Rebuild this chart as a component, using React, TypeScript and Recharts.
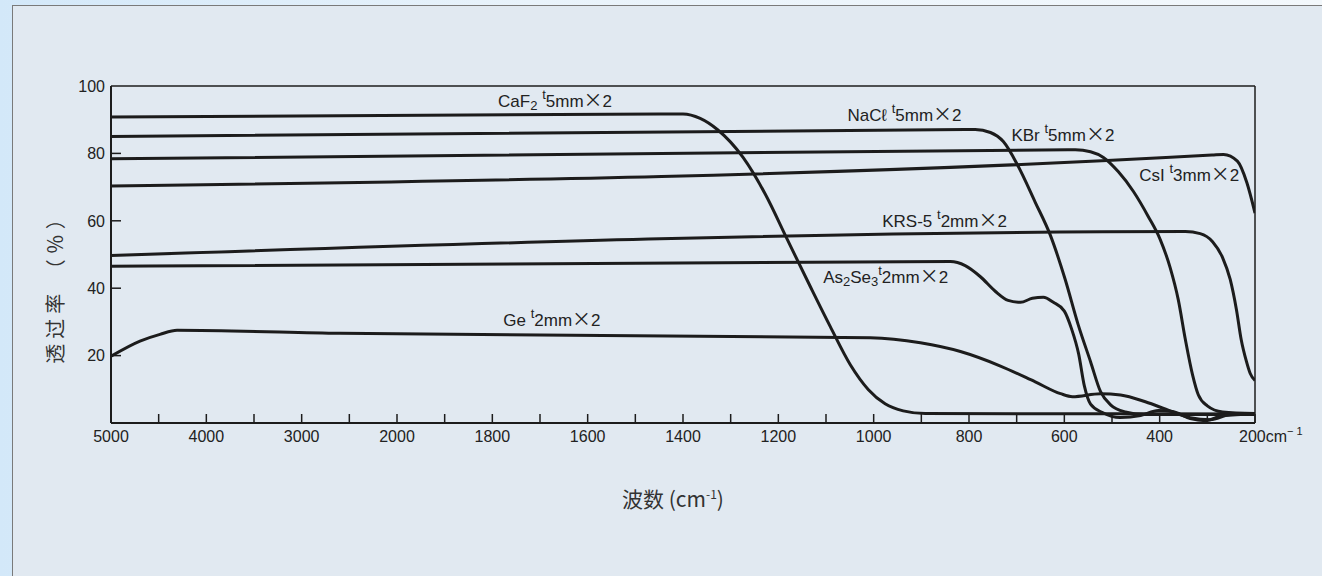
import { LineChart, Line, XAxis, YAxis, ReferenceLine, ReferenceDot } from 'recharts';

// the original axis is not linear: these ticks are evenly spaced
const waveTicks = [5000, 4000, 3000, 2000, 1800, 1600, 1400, 1200, 1000, 800, 600, 400, 200];
const yTicks = [20, 40, 60, 80, 100];

// [wavenumber cm-1, transmittance %]
const caf2 = [
  [5000, 90.8], [1400, 91.7], [1364, 90.4], [1328, 87.1], [1274, 78.8], [1227, 67.8], [1181, 54.4],
  [1133, 40.5], [1091, 28.6], [1049, 17.3], [1011, 9.9], [976, 5.7], [938, 3.6], [892, 2.8], [200, 2.7],
];
const nacl = [
  [5000, 85.0], [787, 87.1], [755, 86.2], [728, 83.5], [699, 76.8], [661, 65.5], [629, 55.6],
  [598, 42.5], [571, 29.2], [545, 18.2], [524, 9.3], [503, 5.4], [472, 3.3], [430, 2.5], [200, 2.5],
];
const kbr = [
  [5000, 78.4], [577, 81.1], [545, 80.5], [518, 78.8], [487, 74.6], [455, 68.7], [424, 61.3],
  [399, 54.5], [378, 46.1], [361, 36.6], [346, 24.7], [331, 14.3], [319, 8.4], [300, 5.1], [268, 3.3], [200, 2.8],
];
const csi = [[5000, 70.3], [290, 79.5], [266, 79.7], [237, 77.7], [217, 71.3], [200, 62.3]];
const krs5 = [
  [5000, 49.7], [346, 56.8], [315, 56.2], [289, 53.8], [268, 49.1], [252, 42.6], [239, 33.7],
  [229, 24.8], [218, 18.3], [210, 14.7], [200, 12.6],
];
const as2se3 = [
  [5000, 46.5], [839, 47.9], [808, 46.7], [776, 43.4], [745, 39.1], [718, 36.4], [692, 35.8],
  [667, 37.0], [644, 37.3], [623, 35.8], [600, 33.2], [585, 28.0], [570, 20.5], [558, 11.0], [545, 5.6],
  [520, 3.1], [483, 1.6], [440, 2.2], [403, 3.7], [373, 3.4], [336, 1.3], [304, 0.7], [268, 2.2], [200, 2.7],
];
const ge = [
  [5000, 19.8], [4696, 24.3], [4486, 26.3], [4307, 27.5], [2597, 26.6], [1007, 25.3], [902, 23.8],
  [818, 21.2], [734, 16.9], [661, 12.2], [608, 8.7], [583, 7.8], [524, 8.7], [482, 8.3], [430, 6.3],
  [378, 3.6], [336, 1.6], [294, 1.0], [252, 2.5], [200, 2.8],
];

// curve captions: [wavenumber, value] of the text start, then text parts
const captions: { wn: number; v: number; parts: [string, string][] }[] = [
  { wn: 1788, v: 93.9, parts: [['n', 'CaF'], ['sub', '2'], ['n', ' '], ['sup', 't'], ['n', '5mm'], ['x', '×'], ['n', '2']] },
  { wn: 1055, v: 89.5, parts: [['n', 'NaCℓ '], ['sup', 't'], ['n', '5mm'], ['x', '×'], ['n', '2']] },
  { wn: 711, v: 83.8, parts: [['n', 'KBr '], ['sup', 't'], ['n', '5mm'], ['x', '×'], ['n', '2']] },
  { wn: 443, v: 71.8, parts: [['n', 'CsI '], ['sup', 't'], ['n', '3mm'], ['x', '×'], ['n', '2']] },
  { wn: 982, v: 58.3, parts: [['n', 'KRS-5 '], ['sup', 't'], ['n', '2mm'], ['x', '×'], ['n', '2']] },
  { wn: 1106, v: 41.4, parts: [['n', 'As'], ['sub', '2'], ['n', 'Se'], ['sub', '3'], ['sup', 't'], ['n', '2mm'], ['x', '×'], ['n', '2']] },
  { wn: 1777, v: 28.9, parts: [['n', 'Ge '], ['sup', 't'], ['n', '2mm'], ['x', '×'], ['n', '2']] },
];

function toPos(wn: number) {
  for (let i = 0; i < waveTicks.length - 1; i++) {
    const a = waveTicks[i];
    const b = waveTicks[i + 1];
    if (wn <= a && wn >= b) return i + (a - wn) / (a - b);
  }
  return wn > waveTicks[0] ? 0 : waveTicks.length - 1;
}

const toPts = (arr: number[][]) => arr.map(([w, v]) => ({ x: toPos(w), y: v }));

const series = [caf2, nacl, kbr, csi, krs5, as2se3, ge].map(toPts);

const INK = '#1c1c1c';
const FONT = '"Liberation Sans", Arial, sans-serif';
const CJK = '"Noto Sans CJK SC", "Noto Sans", sans-serif';

const minorTicks = Array.from({ length: 25 }, (_, i) => i / 2);

function XTick({ x, y, payload }: any) {
  const v = payload.value;
  const major = Number.isInteger(v);
  return (
    <g>
      <line x1={x} y1={y} x2={x} y2={y - 9} stroke={INK} strokeWidth={1.5} />
      {major && v < 12 && (
        <text x={x} y={y + 19} textAnchor="middle" fontSize={16} fill="#222" fontFamily={FONT}>
          {waveTicks[v]}
        </text>
      )}
      {v === 12 && (
        <text x={x - 16} y={y + 19} fontSize={16} fill="#222" fontFamily={FONT}>
          200cm<tspan dy={-7} fontSize={11}>− 1</tspan>
        </text>
      )}
    </g>
  );
}

function YTick({ x, y, payload }: any) {
  const v = payload.value;
  return (
    <g>
      {v < 100 && <line x1={x} y1={y} x2={x + 10} y2={y} stroke={INK} strokeWidth={1.5} />}
      <text x={x - 6} y={y} dy="0.36em" textAnchor="end" fontSize={16} fill="#222" fontFamily={FONT}>
        {v}
      </text>
    </g>
  );
}

function CurveLabel({ viewBox, parts }: any) {
  let shift = 0;
  const spans = parts.map(([kind, t]: [string, string], i: number) => {
    const target = kind === 'sub' ? 3 : kind === 'sup' ? -8 : 0;
    const dy = target - shift;
    shift = target;
    const size = kind === 'n' ? 17 : kind === 'x' ? 19 : 13;
    return (
      <tspan key={i} dy={dy} fontSize={size} fontFamily={kind === 'x' ? '"Noto Sans CJK JP"' : undefined}>
        {t}
      </tspan>
    );
  });
  return (
    <text x={viewBox.x} y={viewBox.y} fill="#222" fontFamily={FONT}>
      {spans}
    </text>
  );
}

function XTitle({ viewBox }: any) {
  return (
    <text x={viewBox.x + viewBox.width / 2 - 10} y={viewBox.y + 84} textAnchor="middle" fontSize={21} fill="#333" fontFamily={CJK}>
      波数 (cm<tspan dy={-8} fontSize={12}>-1</tspan><tspan dy={8}>)</tspan>
    </text>
  );
}

function YTitle({ viewBox }: any) {
  const cx = viewBox.x + 5;
  const cy = 284;
  return (
    <text x={cx} y={cy} transform={`rotate(-90 ${cx} ${cy})`} dy="0.35em" textAnchor="middle" fontSize={20} letterSpacing={5} fill="#333" fontFamily={CJK}>
      透过率 （％）
    </text>
  );
}

export default function App() {
  return (
    <div
      style={{
        position: 'absolute',
        left: 0,
        top: 0,
        width: 1322,
        height: 576,
        overflow: 'hidden',
        background: 'linear-gradient(90deg, #d3e8f9 0%, #e9f3fb 40%, #f3f8fc 100%)',
      }}
    >
      <div
        style={{
          position: 'absolute',
          left: 12,
          top: 5,
          width: 1320,
          height: 580,
          background: '#e1e9f1',
          border: '1.5px solid #7a7a7a',
        }}
      />
      <div style={{ position: 'absolute', left: 0, top: 0 }}>
        <LineChart width={1322} height={576} margin={{ top: 86, right: 67, bottom: 123, left: 51 }}>
          <XAxis
            type="number"
            dataKey="x"
            domain={[0, 12]}
            ticks={minorTicks}
            interval={0}
            tick={<XTick />}
            tickLine={false}
            tickSize={0}
            tickMargin={0}
            height={30}
            allowDataOverflow
            axisLine={{ stroke: INK, strokeWidth: 2 }}
            label={{ content: <XTitle /> }}
          />
          <YAxis
            type="number"
            domain={[0, 100]}
            ticks={yTicks}
            interval={0}
            tick={<YTick />}
            tickLine={false}
            tickSize={0}
            tickMargin={0}
            width={60}
            axisLine={{ stroke: INK, strokeWidth: 2 }}
            label={{ content: <YTitle /> }}
          />
          <ReferenceLine y={100} stroke={INK} strokeWidth={1.5} />
          <ReferenceLine x={12} stroke={INK} strokeWidth={1.5} />
          {series.map((d, i) => (
            <Line
              key={i}
              data={d}
              dataKey="y"
              type="monotone"
              stroke={INK}
              strokeWidth={3}
              dot={false}
              activeDot={false}
              isAnimationActive={false}
            />
          ))}
          {captions.map((c, i) => (
            <ReferenceDot
              key={'c' + i}
              x={toPos(c.wn)}
              y={c.v}
              r={0}
              fill="none"
              stroke="none"
              ifOverflow="visible"
              label={{ content: <CurveLabel parts={c.parts} /> }}
            />
          ))}
        </LineChart>
      </div>
    </div>
  );
}
